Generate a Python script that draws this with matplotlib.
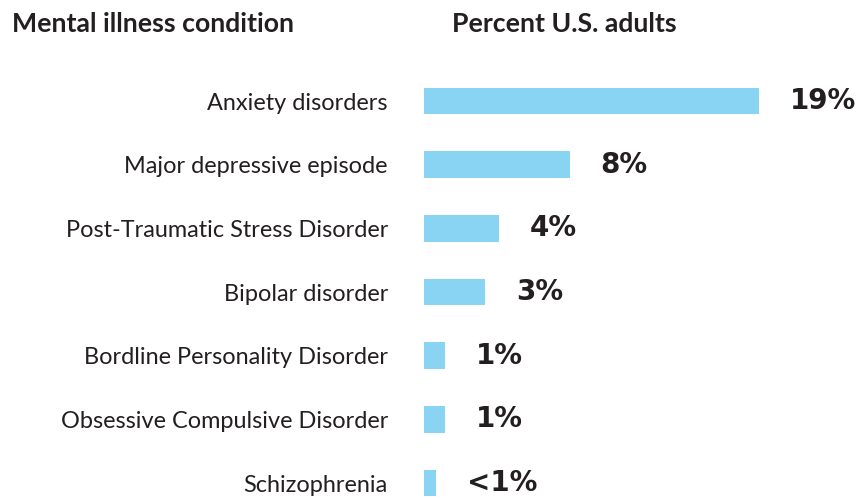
import matplotlib
matplotlib.use("Agg")
import matplotlib.pyplot as plt

conditions = ["Anxiety disorders", "Major depressive episode",
              "Post-Traumatic Stress Disorder", "Bipolar disorder",
              "Bordline Personality Disorder", "Obsessive Compulsive Disorder",
              "Schizophrenia"]
percents = [19.1, 8.3, 4.3, 3.5, 1.2, 1.2, 0.7]
value_labels = ["19%", "8%", "4%", "3%", "1%", "1%", "<1%"]

bar_color = "#89d3f3"
text_color = "#231f20"


def main():
  fig = plt.figure(figsize=(8.61, 4.98), dpi=100)
  # axes starts where the bars start
  ax = fig.add_axes([424 / 861, 0, 437 / 861, (498 - 69.2) / 498])

  ypos = list(range(len(conditions)))
  ax.barh(ypos, percents, height=0.42, color=bar_color)

  ax.set_xlim(0, 437 / 335 * 19.1)
  ax.set_ylim(6.235, -0.5)

  ax.set_yticks(ypos)
  ax.set_yticklabels(conditions, fontname="Lato", fontsize=16.9, color=text_color)
  ax.tick_params(axis="y", length=0, pad=26)
  ax.set_xticks([])
  for s in ax.spines.values():
    s.set_visible(False)

  for y, v, lab in zip(ypos, percents, value_labels):
    ax.annotate(lab, (v, y), xytext=(22, 0), textcoords="offset points",
                va="center", ha="left", fontsize=20, fontweight="bold",
                family="DejaVu Sans", color=text_color)

  fig.text(12 / 861, 1 - 32 / 498, "Mental illness condition", fontname="Lato",
           fontweight="bold", fontsize=19.2, color=text_color, va="baseline")
  fig.text(452 / 861, 1 - 32 / 498, "Percent U.S. adults", fontname="Lato",
           fontweight="bold", fontsize=19.2, color=text_color, va="baseline")

  fig.savefig("out.png", dpi=100)


if __name__ == "__main__":
  main()
